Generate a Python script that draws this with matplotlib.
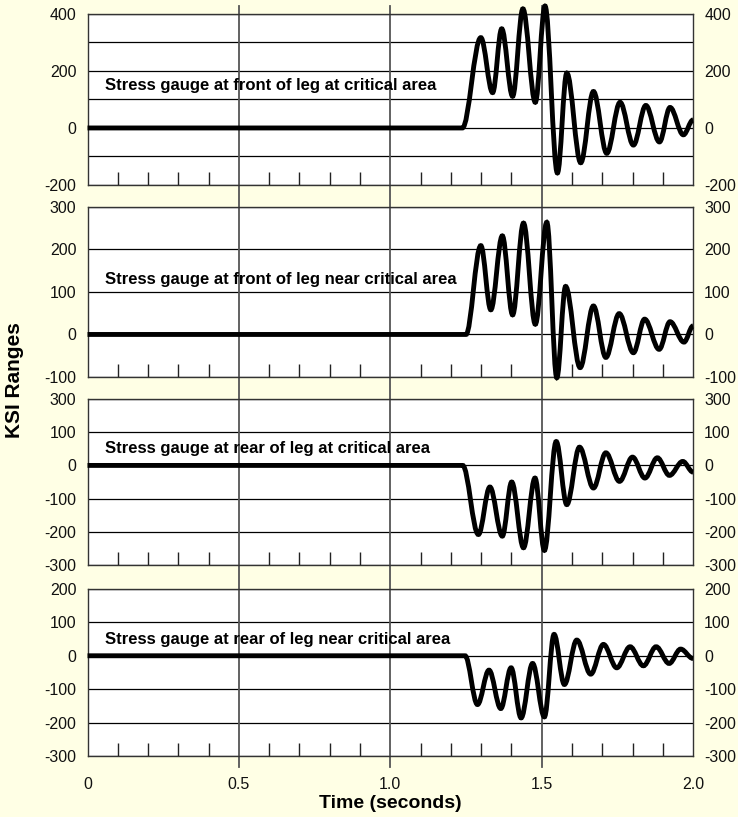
import matplotlib.pyplot as plt
import matplotlib.transforms as mtransforms
from matplotlib.lines import Line2D
from matplotlib.path import Path
from matplotlib.patches import PathPatch
from matplotlib.ticker import FixedLocator

plt.rcParams['font.family'] = ['Liberation Sans', 'DejaVu Sans']

# Gauge readings: time (s) and stress (ksi) at each turning point of the trace
front_crit_t = [0.0, 1.238, 1.299, 1.338, 1.368, 1.404, 1.438, 1.479, 1.511, 1.552, 1.583,
                1.629, 1.671, 1.715, 1.759, 1.803, 1.844, 1.889, 1.924, 1.968, 2.0]
front_crit_v = [0, 0, 317, 124, 348, 111, 418, 90, 428, -158, 193,
                -122, 128, -89, 90, -60, 79, -49, 72, -24, 28]

front_near_t = [0.0, 1.25, 1.299, 1.332, 1.370, 1.404, 1.440, 1.479, 1.517, 1.550, 1.579,
                1.627, 1.671, 1.712, 1.756, 1.803, 1.840, 1.888, 1.924, 1.970, 2.0]
front_near_v = [0, 0, 209, 58, 232, 46, 262, 24, 264, -102, 113,
                -78, 67, -54, 49, -43, 36, -35, 30, -18, 20]

rear_crit_t = [0.0, 1.239, 1.291, 1.329, 1.370, 1.401, 1.440, 1.478, 1.509, 1.548, 1.583,
               1.625, 1.671, 1.712, 1.757, 1.800, 1.841, 1.882, 1.922, 1.966, 2.0]
rear_crit_v = [0, 0, -208, -65, -213, -50, -248, -38, -256, 72, -118,
               55, -68, 38, -48, 25, -38, 23, -30, 12, -20]

rear_near_t = [0.0, 1.247, 1.288, 1.326, 1.365, 1.399, 1.432, 1.470, 1.509, 1.541, 1.575,
               1.616, 1.662, 1.704, 1.748, 1.792, 1.836, 1.878, 1.921, 1.959, 2.0]
rear_near_v = [0, 0, -146, -43, -158, -36, -186, -23, -183, 64, -86,
               47, -55, 34, -36, 27, -30, 27, -23, 20, -8]

titles = ['Stress gauge at front of leg at critical area',
          'Stress gauge at front of leg near critical area',
          'Stress gauge at rear of leg at critical area',
          'Stress gauge at rear of leg near critical area']
title_y = [150, 130, 50, 50]

y_limits = [(-200, 400), (-100, 300), (-300, 200), (-300, 200)]
y_ticks = [[-200, -100, 0, 100, 200, 300, 400],
           [-100, 0, 100, 200, 300],
           [-300, -200, -100, 0, 100, 200],
           [-300, -200, -100, 0, 100, 200]]
y_ticklabels = [['-200', '', '0', '', '200', '', '400'],
                ['-100', '0', '100', '200', '300'],
                ['-300', '-200', '-100', '0', '100', '300'],
                ['-300', '-200', '-100', '0', '100', '200']]

x_ticks = [0, 0.5, 1.0, 1.5, 2.0]
x_ticklabels = ['0', '0.5', '1.0', '1.5', '2.0']
x_minor = [0.1, 0.2, 0.3, 0.4, 0.6, 0.7, 0.8, 0.9, 1.1, 1.2, 1.3, 1.4, 1.6, 1.7, 1.8, 1.9]
x_lines = [0.5, 1.0, 1.5]

series = [(front_crit_t, front_crit_v), (front_near_t, front_near_v),
          (rear_crit_t, rear_crit_v), (rear_near_t, rear_near_v)]


def smooth_trace(t, v, k=0.36):
    # cubic bezier through turning points, flat tangent at each one
    verts = [(t[0], v[0])]
    codes = [Path.MOVETO]
    for i in range(1, len(t)):
        dt = t[i] - t[i - 1]
        verts += [(t[i - 1] + k * dt, v[i - 1]), (t[i] - k * dt, v[i]), (t[i], v[i])]
        codes += [Path.CURVE4] * 3
    return Path(verts, codes)


bg = '#FFFFE5'
vline_color = '#555555'
fig = plt.figure(figsize=(7.38, 8.17), dpi=100, facecolor=bg)

# axes boxes in figure fractions (left, bottom, width, height)
boxes = [(0.1186, 0.7736, 0.8205, 0.2093),
         (0.1186, 0.5386, 0.8205, 0.2081),
         (0.1186, 0.3084, 0.8205, 0.2032),
         (0.1186, 0.0747, 0.8205, 0.2044)]

axes = []
for i, box in enumerate(boxes):
    ax = fig.add_axes(box)
    ax.set_facecolor('white')
    ax.set_xlim(0, 2.0)
    ax.set_ylim(*y_limits[i])
    ax.set_yticks(y_ticks[i])
    ax.set_yticklabels(y_ticklabels[i])
    ax.yaxis.grid(True, color='black', linewidth=0.9)
    ax.tick_params(axis='y', which='both', length=0, labelsize=11.5, left=True, right=True,
                   labelleft=True, labelright=True, colors='#111111', pad=8)
    ax.set_xticks(x_ticks)
    ax.xaxis.set_minor_locator(FixedLocator(x_minor))
    ax.tick_params(axis='x', which='minor', direction='in', length=9.5, width=1.0,
                   color='#222222', top=False)
    ax.tick_params(axis='x', which='major', length=0, labelsize=11.5, pad=15,
                   colors='#111111')
    if i < 3:
        ax.set_xticklabels([])
    else:
        ax.set_xticklabels(x_ticklabels)
    for s in ax.spines.values():
        s.set_color('#333333')
        s.set_linewidth(1.0)
    ax.set_axisbelow(True)

    for xv in x_lines:
        ax.axvline(xv, color=vline_color, linewidth=1.3, zorder=1.5)

    t, v = series[i]
    ax.add_patch(PathPatch(smooth_trace(t, v), fill=False, edgecolor='black',
                           linewidth=3.5, capstyle='butt', zorder=3, clip_on=False))
    ax.text(0.058, title_y[i], titles[i], fontsize=12, fontweight='bold',
            ha='left', va='center', zorder=4)
    axes.append(ax)

# half-second lines carried through the gaps between panels (behind the panels)
trans = mtransforms.blended_transform_factory(axes[-1].transData, fig.transFigure)
for xv in x_lines:
    ln = Line2D([xv, xv], [0.0612, 0.9927], transform=trans,
                color=vline_color, linewidth=1.3)
    ln.set_zorder(-1)
    fig.add_artist(ln)

fig.text(0.02, 0.535, 'KSI Ranges', rotation=90, fontsize=15, fontweight='bold',
         ha='center', va='center')
fig.text(0.5285, 0.017, 'Time (seconds)', fontsize=14, fontweight='bold',
         ha='center', va='center')

fig.savefig('out.png', dpi=100, facecolor=bg)
